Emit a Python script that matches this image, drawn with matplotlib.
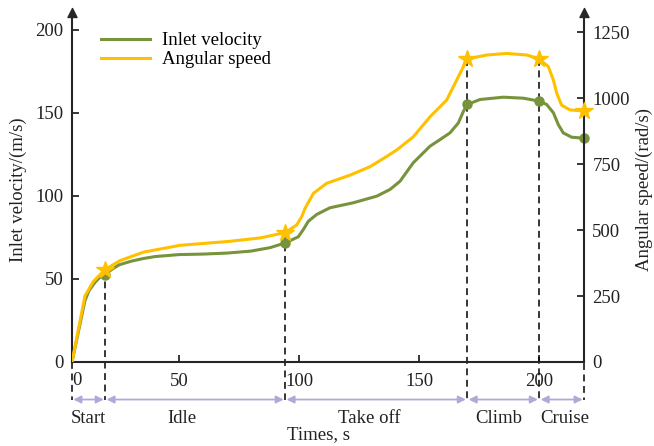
import matplotlib.pyplot as plt
from matplotlib.path import Path

plt.rcParams['font.family'] = ['Liberation Serif', 'DejaVu Serif']
plt.rcParams['font.size'] = 13.5

# Inlet velocity (m/s) over time
t_vel = [5.4, 10.8, 12.5, 15.0, 17.0, 19.2, 22.0, 25.0, 30.0, 35.0, 40.0, 50.0,
         60.0, 70.0, 80.0, 88.0, 94.2, 99.7, 101.8, 103.9, 107.4, 112.9, 122.6,
         132.4, 137.9, 142.1, 147.6, 154.6, 158.8, 162.9, 166.4, 168.5, 170.1,
         175.4, 185.1, 193.5, 200.1, 203.2, 206.0, 208.0, 210.1, 213.6, 218.75]
velocity = [0, 37.0, 43.0, 48.0, 51.0, 52.7, 55.8, 58.5, 60.7, 62.3, 63.5, 64.7,
            65.0, 65.6, 66.8, 68.9, 71.7, 75.4, 79.8, 84.8, 88.9, 92.9, 95.9,
            99.9, 103.9, 108.9, 120.0, 130.0, 134.0, 138.0, 144.0, 151.0, 155.1,
            158.1, 159.5, 158.9, 157.1, 155.1, 150.1, 143.1, 138.0, 135.4, 134.8]

# Angular speed (rad/s) over time
t_ang = [5.4, 10.8, 14.3, 19.2, 25.4, 35.1, 50.4, 71.0, 83.75, 94.2, 99.0,
         101.1, 102.5, 106.0, 111.5, 121.3, 129.6, 135.0, 140.7, 147.6, 154.6,
         161.5, 165.7, 170.1, 178.2, 186.5, 194.9, 200.1, 203.9, 206.0, 207.4,
         209.4, 212.9, 218.75]
angular = [0, 250, 305, 350, 384, 416, 442, 457, 470, 490, 519,
           550, 582, 639, 677, 708, 740, 770, 803, 853, 929,
           992, 1068, 1148, 1163, 1169, 1163, 1148, 1119, 1068, 1018,
           973, 955, 951]

# Flight phases
phase_edges = [5.4, 19.2, 94.2, 170.1, 200.1, 218.75]
phase_names = ['Start', 'Idle', 'Take off', 'Climb', 'Cruise']
phase_label_x = [12.1, 51.3, 129.2, 183.3, 210.8]
edge_vel = [0, 52.7, 71.7, 155.1, 157.1, 134.8]
edge_ang = [0, 350, 490, 1148, 1148, 951]

green = '#77933c'
yellow = '#ffc000'
purple = '#b4a7d6'
spine_c = '#262626'
text_c = '#222222'

fig = plt.figure(figsize=(6.54, 4.46), dpi=100)
ax = fig.add_axes([72 / 654, 84 / 446, 512 / 654, 345 / 446])
ax2 = ax.twinx()

ax.set_xlim(5.4, 218.75)
ax.set_ylim(0, 207.8)
ax2.set_ylim(0, 1307)

l1, = ax.plot(t_vel, velocity, color=green, lw=2.2, label='Inlet velocity', zorder=3)
l2, = ax2.plot(t_ang, angular, color=yellow, lw=2.2, label='Angular speed', zorder=3)

# markers at phase boundaries
ax.plot(phase_edges[1:], edge_vel[1:], 'o', color=green, ms=6.5, zorder=4, clip_on=False)
ax2.plot(phase_edges[1:], edge_ang[1:], '*', color=yellow, ms=13, zorder=4, clip_on=False)

# dashed boundary lines down below the axis
y_low = -22.6
for x, va, vv in zip(phase_edges, edge_ang, edge_vel):
    top = max(va * 207.8 / 1307, vv)
    ax.plot([x, x], [top, y_low - 0.5], ls=(0, (4.5, 3)), color='black', lw=1.1,
            clip_on=False, zorder=2)

# phase arrows and labels
for i, name in enumerate(phase_names):
    x0, x1 = phase_edges[i], phase_edges[i + 1]
    ax.annotate('', xy=(x1 - 0.6, y_low), xytext=(x0 + 0.6, y_low),
                xycoords='data', annotation_clip=False,
                arrowprops=dict(arrowstyle='<|-|>', color=purple, lw=1.3,
                                mutation_scale=11, shrinkA=0, shrinkB=0))
    ax.text(phase_label_x[i], -34.3, name, ha='center', va='center',
            fontsize=13.5, color=text_c)

ax.text(108, -43.8, 'Times, s', ha='center', va='center', fontsize=13.5, color=text_c)

# axes styling
for a in (ax, ax2):
    a.spines['top'].set_visible(False)
    for s in ('left', 'right', 'bottom'):
        a.spines[s].set_linewidth(1.5)
        a.spines[s].set_color(spine_c)
ax.spines['right'].set_visible(False)
ax2.spines['left'].set_visible(False)
ax2.spines['bottom'].set_visible(False)

ax.set_xticks([50, 100, 150, 200])
ax.set_yticks([0, 50, 100, 150, 200])
ax2.set_yticks([0, 250, 500, 750, 1000, 1250])
ax.tick_params(axis='x', direction='in', length=5, width=1.3, pad=8, colors=spine_c,
               labelcolor=text_c)
ax.tick_params(axis='y', direction='in', length=5, width=1.3, pad=6, colors=spine_c,
               labelcolor=text_c)
ax2.tick_params(axis='y', direction='in', length=5, width=1.3, pad=6, colors=spine_c,
                labelcolor=text_c)
ax.text(5.6, -6.2, '0', ha='left', va='top', fontsize=13.5, color=text_c)

# arrow heads on the vertical axes
tri = Path([(-0.5, 0), (0.5, 0), (0, 1), (-0.5, 0)],
           [Path.MOVETO, Path.LINETO, Path.LINETO, Path.CLOSEPOLY])
for xa in (0, 1):
    ax.plot([xa], [1], marker=tri, ms=13, color=spine_c, transform=ax.transAxes,
            clip_on=False, zorder=5)

ax.set_ylabel('Inlet velocity/(m/s)', fontsize=13.5, labelpad=6, color=text_c)
ax2.set_ylabel('Angular speed/(rad/s)', fontsize=13.5, labelpad=4, color=text_c)

ax.legend([l1, l2], ['Inlet velocity', 'Angular speed'], loc='upper left',
          bbox_to_anchor=(0.042, 0.978), frameon=False, handlelength=2.6,
          handletextpad=0.64, labelspacing=0.1, borderaxespad=0.0, fontsize=13.5)

fig.savefig('out.png', dpi=100)
